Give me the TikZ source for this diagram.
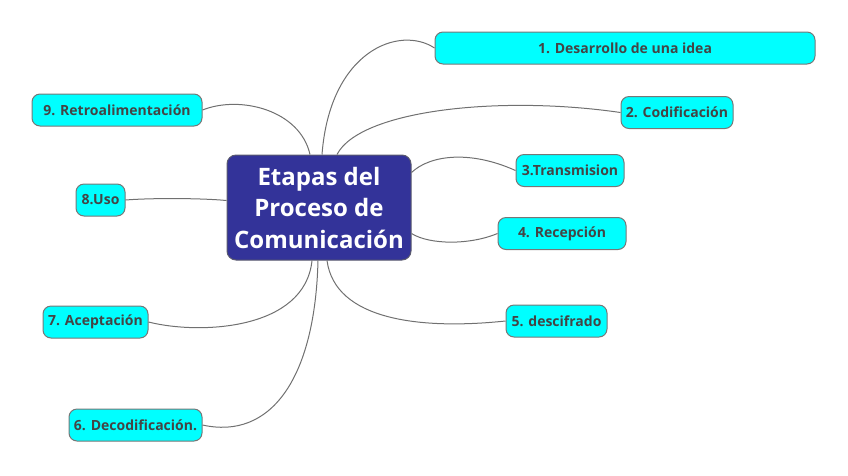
\documentclass[tikz,border=0pt]{standalone}
\usepackage{fontspec}
\setmainfont{Open Sans}
\usetikzlibrary{calc}
\definecolor{leaffill}{HTML}{00FFFF}
\definecolor{leafdraw}{HTML}{777777}
\definecolor{leaftext}{HTML}{444444}
\definecolor{centfill}{HTML}{333399}
\definecolor{centdraw}{HTML}{5A5A6E}
\definecolor{linkcol}{HTML}{707070}
\tikzset{
  leaf/.style={draw=leafdraw, fill=leaffill, line width=1pt, rounded corners=8pt,
    minimum height=32pt, inner sep=0pt, text=leaftext,
    font=\fontsize{14pt}{16pt}\selectfont\bfseries},
  central/.style={draw=centdraw, fill=centfill, line width=1pt, rounded corners=9pt,
    minimum width=184pt, minimum height=105pt, inner sep=0pt, text=white, align=center,
    font=\fontsize{24pt}{31.5pt}\selectfont\bfseries},
  link/.style={draw=linkcol, line width=1pt}
}
\begin{document}
\begin{tikzpicture}[x=1pt,y=-1pt]
\useasboundingbox (0,0) rectangle (848,475);
\node[central] (c) at (319,207.5) {Etapas del\\Proceso de\\Comunicación};
\node[leaf, minimum width=380pt] (n1) at (625,48) {1. Desarrollo de una idea};
\node[leaf, minimum width=112pt] (n2) at (677,112.5) {2. Codificación};
\node[leaf, minimum width=108pt] (n3) at (570,170.5) {3.Transmision};
\node[leaf, minimum width=128pt] (n4) at (562,233.5) {4. Recepción};
\node[leaf, minimum width=101pt] (n5) at (556.5,321) {5. descifrado};
\node[leaf, minimum width=133pt] (n6) at (135.5,425) {6. Decodificación.};
\node[leaf, minimum width=105pt] (n7) at (95.5,322) {7. Aceptación};
\node[leaf, minimum width=49pt] (n8) at (100.5,200) {8.Uso};
\node[leaf, minimum width=170pt] (n9) at (117,110) {9. Retroalimentación};
\draw[link] ($(c.north)+(3,0)$) .. controls (330,50) and (400,25) .. (n1.west);
\draw[link] ($(c.north)+(18,0)$) .. controls (360,110) and (500,95) .. (n2.west);
\draw[link] ($(c.east)+(0,-35)$) .. controls (430,155) and (470,150) .. (n3.west);
\draw[link] ($(c.east)+(0,26)$) .. controls (430,245) and (470,245) .. (n4.west);
\draw[link] ($(c.south)+(8,0)$) .. controls (335,320) and (420,330) .. (n5.west);
\draw[link] ($(c.south)+(-1,0)$) .. controls (315,380) and (270,440) .. (n6.east);
\draw[link] ($(c.south)+(-7,0)$) .. controls (305,330) and (200,335) .. (n7.east);
\draw[link] ($(c.west)+(0,-7)$) .. controls (200,198) and (150,198) .. (n8.east);
\draw[link] ($(c.north)+(-9,0)$) .. controls (300,110) and (240,95) .. (n9.east);
\end{tikzpicture}
\end{document}
